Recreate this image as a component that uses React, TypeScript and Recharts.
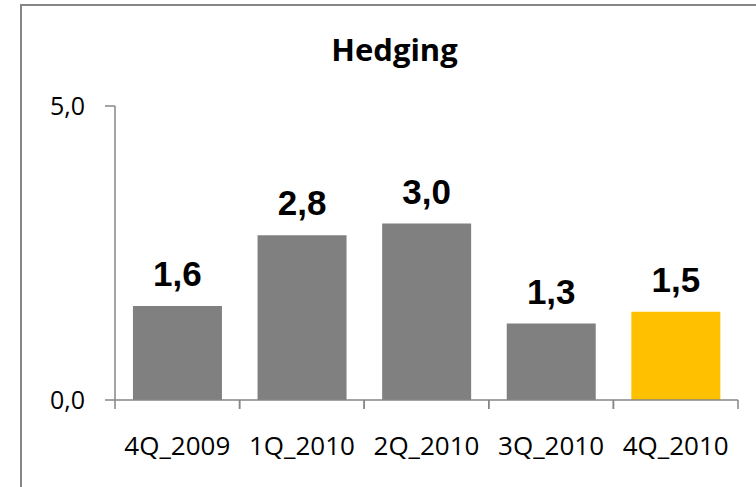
import React from 'react';
import { BarChart, Bar, XAxis, YAxis, Cell, LabelList } from 'recharts';

const quarters = ['4Q_2009', '1Q_2010', '2Q_2010', '3Q_2010', '4Q_2010'];
const hedging = [1.6, 2.8, 3.0, 1.3, 1.5];
const barColors = ['#808080', '#808080', '#808080', '#808080', '#FFC000'];
const yTicks = [0, 5];

const data = quarters.map((q, i) => ({ quarter: q, value: hedging[i] }));

const W = 756;
const H = 487;
const margin = { top: 106, right: 18, bottom: 27, left: 0 };
const axisColor = '#868686';
const tickFont = '"Open Sans", sans-serif';

const fmt = (v: number) => v.toFixed(1).replace('.', ',');

function QuarterTick(props: any) {
  const { x, y, payload } = props;
  const half = payload && payload.offset ? payload.offset : (W - 115 - margin.right) / quarters.length / 2;
  return (
    <g>
      <line x1={x - half} x2={x - half} y1={y} y2={y + 9} stroke={axisColor} strokeWidth={1.5} />
      <line x1={x + half} x2={x + half} y1={y} y2={y + 9} stroke={axisColor} strokeWidth={1.5} />
      <text x={x} y={y + 55} textAnchor="middle" fontFamily={tickFont} fontSize={26} fill="#000">
        {payload.value}
      </text>
    </g>
  );
}

export default function App() {
  return (
    <div style={{ position: 'absolute', left: 0, top: 0, width: W, height: H, overflow: 'hidden', background: '#fff' }}>
      <div
        style={{
          position: 'absolute',
          left: 20,
          top: 4,
          width: 900,
          height: 700,
          border: `2px solid ${axisColor}`,
        }}
      />
      <svg style={{ position: 'absolute', left: 0, top: 0 }} width={W} height={H}>
        <text x={394.5} y={61} textAnchor="middle" fontFamily={tickFont} fontWeight="bold" fontSize={31} fill="#000">
          Hedging
        </text>
      </svg>
      <div style={{ position: 'absolute', left: 0, top: 0 }}>
        <BarChart width={W} height={H} data={data} margin={margin} barCategoryGap="14.4%">
          <XAxis
            dataKey="quarter"
            height={60}
            tickLine={false}
            tickSize={0}
            tickMargin={0}
            axisLine={{ stroke: axisColor, strokeWidth: 1.5 }}
            tick={<QuarterTick />}
            interval={0}
          />
          <YAxis
            width={115}
            domain={[0, 5]}
            ticks={yTicks}
            tickFormatter={fmt}
            tickSize={10}
            tickMargin={20}
            axisLine={{ stroke: axisColor, strokeWidth: 1.5 }}
            tickLine={{ stroke: axisColor, strokeWidth: 1.5 }}
            tick={{ fontFamily: tickFont, fontSize: 25, fill: '#000' }}
          />
          <Bar dataKey="value" isAnimationActive={false}>
            {data.map((d, i) => (
              <Cell key={d.quarter} fill={barColors[i]} />
            ))}
            <LabelList
              dataKey="value"
              position="top"
              offset={20}
              formatter={(v: any) => fmt(Number(v))}
              style={{ fontFamily: '"Liberation Sans", Arial, sans-serif', fontWeight: 'bold', fontSize: 35, fill: '#000' }}
            />
          </Bar>
        </BarChart>
      </div>
    </div>
  );
}
